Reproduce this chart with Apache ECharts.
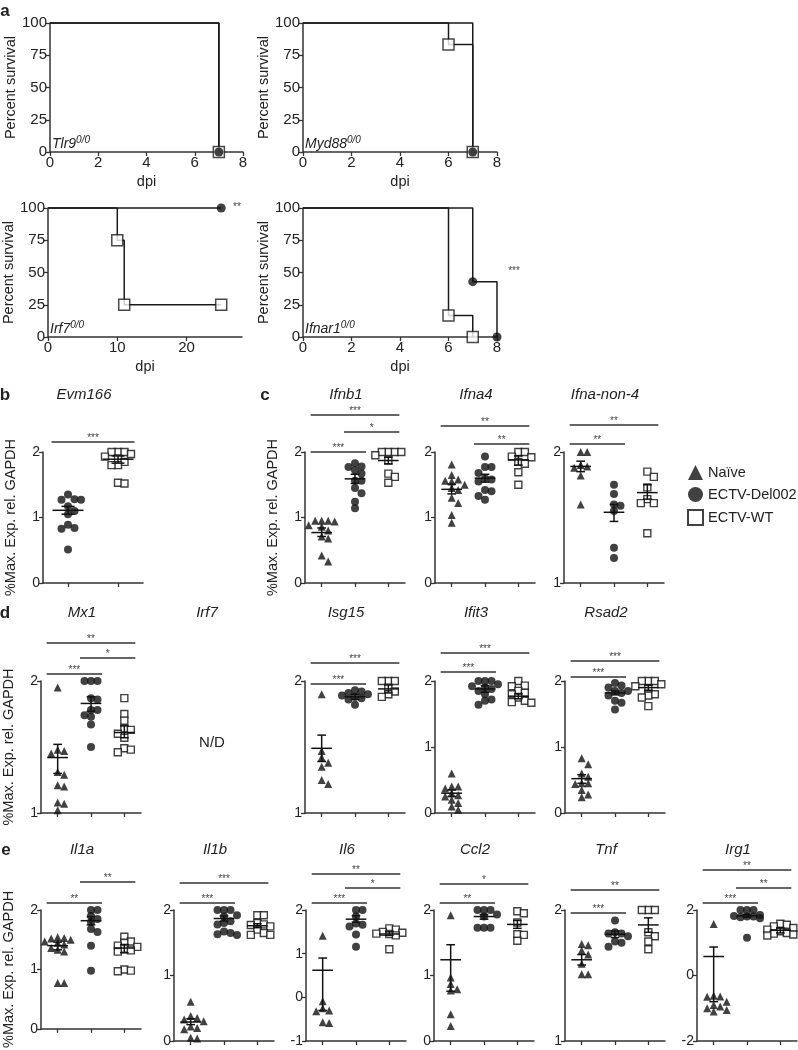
<!DOCTYPE html>
<html><head><meta charset="utf-8">
<script src="https://cdn.jsdelivr.net/npm/echarts@6/dist/echarts.min.js"></script>
<style>html,body{margin:0;padding:0;background:#fff}#c{width:798px;height:1050px}</style>
</head><body><div id="c"></div>
<script>
const GROUPS = ['Naïve', 'ECTV-Del002', 'ECTV-WT'];

// ---- a: survival curves [dpi, % survival] ----
const tlr9_del = [[0,100],[7,0]];
const tlr9_wt = [[0,100],[7,0]];
const myd88_del = [[0,100],[7,0]];
const myd88_wt = [[0,100],[6,83.3],[7,0]];
const irf7_del = [[0,100],[25,100]];
const irf7_wt = [[0,100],[10,75],[11,25],[25,25]];
const ifnar1_del = [[0,100],[7,42.9],[8,0]];
const ifnar1_wt = [[0,100],[6,16.7],[7,0]];
const dpiTicks8 = [0,2,4,6,8];
const dpiTicks28 = [0,10,20];

// ---- b-e: expression values (log10 % max) ----
const evm166_del = [1.35,1.28,1.27,1.27,1.17,1.1,1.05,0.89,0.84,0.83,0.51];
const evm166_wt = [2.0,2.0,2.0,1.97,1.93,1.9,1.85,1.8,1.8,1.53,1.52];
const evm166_stats = [[1.11,1.05,1.17],[1.89,1.83,1.94]];
const evm166_sig = [[0,1,'***']];

const ifnb1_nai = [0.95,0.95,0.94,0.95,0.88,0.86,0.8,0.71,0.68,0.42,0.33];
const ifnb1_del = [1.83,1.78,1.77,1.72,1.67,1.56,1.56,1.45,1.37,1.24,1.14];
const ifnb1_wt = [2.0,2.0,2.0,2.0,1.95,1.87,1.67,1.62,1.53];
const ifnb1_stats = [[0.77,0.71,0.84],[1.59,1.52,1.66],[1.87,1.82,1.92]];
const ifnb1_sig = [[0,2,'***'],[1,2,'*'],[0,1,'***']];

const ifna4_nai = [1.81,1.65,1.58,1.56,1.55,1.5,1.45,1.42,1.3,1.22,1.04,0.92];
const ifna4_del = [1.93,1.77,1.77,1.68,1.6,1.58,1.55,1.42,1.4,1.33,1.27];
const ifna4_wt = [2.0,2.0,1.93,1.92,1.85,1.82,1.69,1.5];
const ifna4_stats = [[1.43,1.36,1.51],[1.6,1.54,1.66],[1.88,1.8,1.94]];
const ifna4_sig = [[0,2,'**'],[1,2,'**']];

const ifnanon4_nai = [2.0,2.0,1.9,1.89,1.88,1.82,1.6];
const ifnanon4_del = [1.75,1.68,1.6,1.59,1.55,1.27,1.19];
const ifnanon4_wt = [1.85,1.81,1.73,1.64,1.61,1.61,1.38];
const ifnanon4_stats = [[1.89,1.85,1.93],[1.54,1.47,1.6],[1.69,1.64,1.75]];
const ifnanon4_sig = [[0,2,'**'],[0,1,'**']];

const mx1_nai = [1.95,1.48,1.47,1.45,1.31,1.29,1.21,1.2,1.08,1.07,1.02];
const mx1_del = [2.0,2.0,2.0,1.87,1.86,1.78,1.78,1.74,1.73,1.67,1.5];
const mx1_wt = [1.87,1.75,1.7,1.64,1.63,1.6,1.57,1.49,1.48,1.46];
const mx1_stats = [[1.42,1.3,1.52],[1.83,1.77,1.88],[1.61,1.57,1.66]];
const mx1_sig = [[0,2,'**'],[1,2,'*'],[0,1,'***']];

const isg15_nai = [1.9,1.47,1.42,1.38,1.35,1.25,1.22];
const isg15_del = [1.93,1.92,1.91,1.9,1.89,1.88,1.87,1.86,1.82];
const isg15_wt = [2.0,2.0,2.0,1.95,1.92,1.9,1.88];
const isg15_stats = [[1.49,1.39,1.59],[1.88,1.86,1.9],[1.94,1.91,1.97]];
const isg15_sig = [[0,2,'***'],[0,1,'***']];

const ifit3_nai = [0.6,0.4,0.4,0.37,0.3,0.27,0.25,0.2,0.15,0.1,0.05];
const ifit3_del = [2.0,2.0,2.0,1.95,1.92,1.9,1.88,1.85,1.8,1.72,1.7,1.64];
const ifit3_wt = [2.0,1.93,1.92,1.85,1.82,1.8,1.75,1.7,1.68,1.67];
const ifit3_stats = [[0.3,0.25,0.35],[1.88,1.83,1.93],[1.77,1.73,1.81]];
const ifit3_sig = [[0,2,'***'],[0,1,'***']];

const rsad2_nai = [0.83,0.74,0.6,0.55,0.45,0.45,0.44,0.35,0.28,0.24];
const rsad2_del = [1.97,1.93,1.9,1.85,1.85,1.82,1.78,1.7,1.67,1.57];
const rsad2_wt = [2.0,2.0,2.0,1.95,1.92,1.88,1.8,1.78,1.75,1.62];
const rsad2_stats = [[0.52,0.45,0.58],[1.82,1.79,1.85],[1.9,1.86,1.94]];
const rsad2_sig = [[0,2,'***'],[0,1,'***']];

const il1a_nai = [1.54,1.53,1.52,1.5,1.47,1.45,1.42,1.36,1.33,1.3,0.77,0.77];
const il1a_del = [2.0,2.0,1.9,1.85,1.8,1.68,1.63,1.4,0.98];
const il1a_wt = [1.55,1.47,1.45,1.4,1.38,1.35,1.32,1.3,1.0,0.97,0.98];
const il1a_stats = [[1.4,1.33,1.46],[1.82,1.75,1.89],[1.36,1.28,1.42]];
const il1a_sig = [[1,2,'**'],[0,1,'**']];

const il1b_nai = [0.6,0.38,0.35,0.33,0.3,0.22,0.2,0.18,0.05,0.04];
const il1b_del = [2.0,2.0,2.0,1.92,1.9,1.83,1.8,1.78,1.67,1.65,1.63,1.62];
const il1b_wt = [1.92,1.92,1.8,1.78,1.77,1.75,1.7,1.65,1.62,1.62];
const il1b_stats = [[0.29,0.25,0.34],[1.87,1.83,1.91],[1.76,1.73,1.79]];
const il1b_sig = [[0,2,'***'],[0,1,'***']];

const il6_nai = [1.41,-0.09,-0.25,-0.3,-0.32,-0.57,-0.59];
const il6_del = [2.0,2.0,1.85,1.69,1.66,1.62,1.44,1.16];
const il6_wt = [1.58,1.55,1.5,1.48,1.46,1.45,1.42,1.1];
const il6_stats = [[0.62,-0.3,0.9],[1.79,1.72,1.87],[1.45,1.42,1.5]];
const il6_sig = [[0,2,'**'],[1,2,'*'],[0,1,'***']];

const ccl2_nai = [1.92,0.97,0.87,0.79,0.77,0.41,0.23];
const ccl2_del = [2.0,2.0,2.0,1.93,1.9,1.73,1.73,1.73];
const ccl2_wt = [1.98,1.95,1.81,1.63,1.62,1.53];
const ccl2_stats = [[1.24,0.76,1.47],[1.9,1.86,1.93],[1.78,1.72,1.84]];
const ccl2_sig = [[0,2,'*'],[0,1,'**']];

const tnf_nai = [1.74,1.73,1.69,1.66,1.59,1.51,1.51];
const tnf_del = [1.92,1.83,1.82,1.82,1.8,1.76,1.75,1.72];
const tnf_wt = [2.0,2.0,2.0,1.83,1.8,1.76,1.7];
const tnf_stats = [[1.62,1.58,1.66],[1.815,1.79,1.84],[1.886,1.83,1.94]];
const tnf_sig = [[0,2,'**'],[0,1,'***']];

const irg1_nai = [1.57,-0.62,-0.64,-0.65,-0.8,-0.9,-0.95,-1.0,-1.05,-1.1];
const irg1_del = [2.0,2.0,2.0,1.85,1.82,1.8,1.8,1.78,1.75,1.15];
const irg1_wt = [1.58,1.55,1.5,1.45,1.4,1.35,1.3,1.28,1.25,1.22];
const irg1_stats = [[0.58,-0.8,0.87],[1.82,1.78,1.87],[1.38,1.3,1.45]];
const irg1_sig = [[0,2,'**'],[1,2,'**'],[0,1,'***']];

// ---- layout ----
const FONT = '"Liberation Sans", Arial, Helvetica, sans-serif';
const AX = '#333', TXT = '#222';
const KM = [
  {label:'Tlr9', del:tlr9_del, wt:tlr9_wt, left:50, top:23, w:193, xmax:8, xt:dpiTicks8},
  {label:'Myd88', del:myd88_del, wt:myd88_wt, left:303, top:23, w:194, xmax:8, xt:dpiTicks8},
  {label:'Irf7', del:irf7_del, wt:irf7_wt, left:48, top:208, w:194, xmax:28, xt:dpiTicks28, star:'**', starPos:[237,207]},
  {label:'Ifnar1', del:ifnar1_del, wt:ifnar1_wt, left:303, top:208, w:194, xmax:8, xt:dpiTicks8, star:'***', starPos:[514,271]}
];
const P = [
  {t:'Evm166', g:[1,2], d:[evm166_del,evm166_wt], s:evm166_stats, sig:evm166_sig, off:[10], left:43, top:452, h:131, y:[0,2,1], yname:true},
  {t:'Ifnb1', g:[0,1,2], d:[ifnb1_nai,ifnb1_del,ifnb1_wt], s:ifnb1_stats, sig:ifnb1_sig, off:[37,20,0], left:305, top:452, h:131, y:[0,2,1], yname:true},
  {t:'Ifna4', g:[0,1,2], d:[ifna4_nai,ifna4_del,ifna4_wt], s:ifna4_stats, sig:ifna4_sig, off:[26,8], left:435, top:452, h:131, y:[0,2,1]},
  {t:'Ifna-non-4', g:[0,1,2], d:[ifnanon4_nai,ifnanon4_del,ifnanon4_wt], s:ifnanon4_stats, sig:ifnanon4_sig, off:[27,8], left:564, top:452, h:131, y:[1,2,1]},
  {t:'Mx1', g:[0,1,2], d:[mx1_nai,mx1_del,mx1_wt], s:mx1_stats, sig:mx1_sig, off:[38,23,7], left:41, top:681, h:132, y:[1,2,1], yname:true},
  {t:'Isg15', g:[0,1,2], d:[isg15_nai,isg15_del,isg15_wt], s:isg15_stats, sig:isg15_sig, off:[18,-3], left:305, top:681, h:132, y:[1,2,1]},
  {t:'Ifit3', g:[0,1,2], d:[ifit3_nai,ifit3_del,ifit3_wt], s:ifit3_stats, sig:ifit3_sig, off:[28,9], left:435, top:681, h:132, y:[0,2,1]},
  {t:'Rsad2', g:[0,1,2], d:[rsad2_nai,rsad2_del,rsad2_wt], s:rsad2_stats, sig:rsad2_sig, off:[20,4], left:565, top:681, h:132, y:[0,2,1]},
  {t:'Il1a', g:[0,1,2], d:[il1a_nai,il1a_del,il1a_wt], s:il1a_stats, sig:il1a_sig, off:[28,7], left:41, top:910, h:131, y:[0,2,1], yname:true},
  {t:'Il1b', g:[0,1,2], d:[il1b_nai,il1b_del,il1b_wt], s:il1b_stats, sig:il1b_sig, off:[27,7], left:174, top:910, h:131, y:[0,2,1]},
  {t:'Il6', g:[0,1,2], d:[il6_nai,il6_del,il6_wt], s:il6_stats, sig:il6_sig, off:[36,22,7], left:306, top:910, h:131, y:[-1,2,1]},
  {t:'Ccl2', g:[0,1,2], d:[ccl2_nai,ccl2_del,ccl2_wt], s:ccl2_stats, sig:ccl2_sig, off:[26,7], left:434, top:910, h:131, y:[0,2,1]},
  {t:'Tnf', g:[0,1,2], d:[tnf_nai,tnf_del,tnf_wt], s:tnf_stats, sig:tnf_sig, off:[20,-3], left:565, top:910, h:131, y:[1,2,1]},
  {t:'Irg1', g:[0,1,2], d:[irg1_nai,irg1_del,irg1_wt], s:irg1_stats, sig:irg1_sig, off:[40,22,7], left:697, top:910, h:131, y:[-2,2,2]}
];
const PW = 100;
const SYM = [
  {symbol:'triangle', symbolSize:8, itemStyle:{color:'#111'}},
  {symbol:'circle', symbolSize:8, itemStyle:{color:'#111'}},
  {symbol:'rect', symbolSize:7, itemStyle:{color:'#fff', borderColor:'#111', borderWidth:1.4}}
];

// compact beeswarm placement in pixel space (deterministic)
function swarm(vals, cat, ppu, cw) {
  const sorted = vals.slice().sort((a, b) => b - a);
  const placed = [], step = 6.5, r = 6.5, maxOff = 13.5;
  sorted.forEach(v => {
    const vy = v * ppu;
    let best = 0, bestD = -1;
    for (let k = 0; k < 9; k++) {
      const m = Math.ceil(k / 2);
      const cand = k === 0 ? 0 : (k % 2 ? m : -m) * step;
      if (Math.abs(cand) > maxOff) break;
      const d = placed.length ? Math.min.apply(null, placed.map(p => Math.hypot(p.x - cand, p.y - vy))) : Infinity;
      if (d >= r) { best = cand; bestD = d; break; }
      if (d > bestD) { bestD = d; best = cand; }
    }
    placed.push({x: best, y: vy});
  });
  return placed.map(p => [cat + p.x / cw, p.y / ppu]);
}

const grid = [], xAxis = [], yAxis = [], series = [], graphic = [];
const lblStyle = {fontSize:14, color:TXT, fontFamily:FONT};
const kmLbl = {fontSize:15, color:TXT, fontFamily:FONT};
const axLine = {show:true, onZero:false, lineStyle:{color:AX, width:1.5}};
const axTick = {show:true, length:4, lineStyle:{color:AX, width:1.3}};

function txt(x, y, text, o) {
  graphic.push({type:'text', x, y, silent:true, style:Object.assign({text, align:'center', verticalAlign:'middle', fontFamily:FONT, fontSize:15, fill:TXT}, o || {})});
}

// survival panels
KM.forEach(p => {
  const gi = grid.length;
  grid.push({left:p.left, top:p.top, width:p.w, height:129});
  const xi = xAxis.length;
  xAxis.push({type:'value', gridIndex:gi, min:0, max:p.xmax, interval:p.xt[1]-p.xt[0],
    name:'dpi', nameLocation:'middle', nameGap:22, nameTextStyle:{fontSize:14.5, color:TXT, fontFamily:FONT},
    axisLine:axLine, axisTick:Object.assign({customValues:p.xt}, axTick),
    axisLabel:Object.assign({margin:3, customValues:p.xt}, kmLbl),
    splitLine:{show:false}});
  const yi = yAxis.length;
  yAxis.push({type:'value', gridIndex:gi, min:0, max:100, interval:25,
    name:'Percent survival', nameLocation:'middle', nameGap:32, nameTextStyle:{fontSize:14.5, color:TXT, fontFamily:FONT},
    axisLine:axLine, axisTick:axTick, axisLabel:Object.assign({margin:3}, kmLbl), splitLine:{show:false}});
  [p.wt, p.del].forEach(d => series.push({type:'line', xAxisIndex:xi, yAxisIndex:yi, step:'end', data:d,
    symbol:'none', showSymbol:false, clip:false, silent:true, lineStyle:{color:'#1a1a1a', width:1.5}, z:2}));
  series.push({type:'scatter', xAxisIndex:xi, yAxisIndex:yi, data:p.wt.slice(1), symbol:'rect', symbolSize:11,
    itemStyle:{color:'#fff', borderColor:'#1a1a1a', borderWidth:1.5}, clip:false, silent:true, z:3});
  series.push({type:'scatter', xAxisIndex:xi, yAxisIndex:yi, data:p.del.slice(1), symbol:'circle', symbolSize:9,
    itemStyle:{color:'#111'}, clip:false, silent:true, z:4});
  graphic.push({type:'text', x:p.left + 2, y:p.top + 121, silent:true, style:{
    text:'{a|' + p.label + '}{b|0/0}', align:'left', verticalAlign:'middle',
    rich:{a:{fontSize:14, fontStyle:'italic', fontFamily:FONT, fill:TXT, lineHeight:18},
          b:{fontSize:10, fontStyle:'italic', fontFamily:FONT, fill:TXT, verticalAlign:'top', lineHeight:10}}}});
  if (p.star) txt(p.starPos[0], p.starPos[1], p.star, {fontSize:10, fill:'#444'});
});

// expression panels
P.forEach(p => {
  const n = p.g.length, gi = grid.length;
  grid.push({left:p.left, top:p.top, width:PW, height:p.h});
  xAxis.push({type:'category', gridIndex:gi, data:p.g.map(i => GROUPS[i]), boundaryGap:true,
    axisLine:axLine, axisTick:Object.assign({alignWithLabel:true, interval:0}, axTick),
    axisLabel:{show:false, interval:0}, splitLine:{show:false}});
  const xv = xAxis.length;
  xAxis.push({type:'value', gridIndex:gi, min:-0.5, max:n-0.5, show:false, splitLine:{show:false}});
  const yi = yAxis.length;
  const ya = {type:'value', gridIndex:gi, min:p.y[0], max:p.y[1], interval:p.y[2],
    axisLine:axLine, axisTick:axTick, axisLabel:Object.assign({margin:3}, lblStyle), splitLine:{show:false}};
  if (p.yname) Object.assign(ya, {name:'%Max. Exp. rel. GAPDH', nameLocation:'middle', nameGap:25,
    nameTextStyle:{fontSize:14.5, color:TXT, fontFamily:FONT}});
  yAxis.push(ya);
  const ppu = p.h / (p.y[1] - p.y[0]), cw = PW / n;
  p.d.forEach((vals, k) => {
    const grp = p.g[k];
    series.push(Object.assign({type:'scatter', name:GROUPS[grp], xAxisIndex:xv, yAxisIndex:yi,
      data:swarm(vals, k, ppu, cw), clip:false, silent:true, z:3}, JSON.parse(JSON.stringify(SYM[grp]))));
  });
  series.push({type:'custom', xAxisIndex:xv, yAxisIndex:yi, clip:false, silent:true, z:5,
    data:p.s.map((s, k) => [k, s[0], s[1], s[2]]),
    renderItem:(params, api) => {
      const x = api.value(0);
      const pm = api.coord([x, api.value(1)]), pl = api.coord([x, api.value(2)]), ph = api.coord([x, api.value(3)]);
      const w = api.size([1, 0])[0], mh = w * 0.31, ch = w * 0.13;
      const st = {stroke:'#111', lineWidth:1.5};
      return {type:'group', children:[
        {type:'line', shape:{x1:pm[0]-mh, y1:pm[1], x2:pm[0]+mh, y2:pm[1]}, style:st},
        {type:'line', shape:{x1:pl[0], y1:pl[1], x2:ph[0], y2:ph[1]}, style:st},
        {type:'line', shape:{x1:pl[0]-ch, y1:pl[1], x2:pl[0]+ch, y2:pl[1]}, style:st},
        {type:'line', shape:{x1:ph[0]-ch, y1:ph[1], x2:ph[0]+ch, y2:ph[1]}, style:st}
      ]};
    }});
  series.push({type:'custom', xAxisIndex:xv, yAxisIndex:yi, clip:false, silent:true, z:5,
    data:p.sig.map((s, k) => [s[0], s[1], k]),
    renderItem:(params, api) => {
      const i = api.value(0), j = api.value(1), k = api.value(2);
      const w = api.size([1, 0])[0];
      const y = api.coord([0, p.y[1]])[1] - p.off[k];
      const x1 = api.coord([i, p.y[1]])[0] - 0.33 * w, x2 = api.coord([j, p.y[1]])[0] + 0.33 * w;
      return {type:'group', children:[
        {type:'line', shape:{x1, y1:y, x2, y2:y}, style:{stroke:'#333', lineWidth:1.3}},
        {type:'text', x:(x1 + x2) / 2, y:y + 1, style:{text:p.sig[k][2], align:'center', verticalAlign:'bottom',
          fontSize:10, fontFamily:FONT, fill:'#444'}}
      ]};
    }});
  txt(p.left + 41, p.top - (p.top === 452 ? 57 : p.top === 681 ? 68 : 60), p.t, {fontStyle:'italic'});
});

// row labels, N/D, Irf7 title
txt(5, 11, 'a', {fontWeight:'bold', fontSize:17});
txt(5, 395, 'b', {fontWeight:'bold', fontSize:17});
txt(265, 395, 'c', {fontWeight:'bold', fontSize:17});
txt(5, 613, 'd', {fontWeight:'bold', fontSize:17});
txt(6, 850, 'e', {fontWeight:'bold', fontSize:17});
txt(207, 613, 'Irf7', {fontStyle:'italic'});
txt(212, 743, 'N/D', {fontSize:15});

const chart = echarts.init(document.getElementById('c'), null, {renderer:'canvas'});
chart.setOption({
  animation:false,
  backgroundColor:'#fff',
  textStyle:{fontFamily:FONT},
  legend:{orient:'vertical', left:682, top:460, itemWidth:15, itemHeight:15, itemGap:7, selectedMode:false,
    textStyle:{fontSize:14.5, color:TXT, fontFamily:FONT},
    data:[{name:'Naïve', icon:'triangle'}, {name:'ECTV-Del002', icon:'circle'}, {name:'ECTV-WT', icon:'rect'}]},
  grid, xAxis, yAxis, series, graphic
});
</script>
</body></html>
